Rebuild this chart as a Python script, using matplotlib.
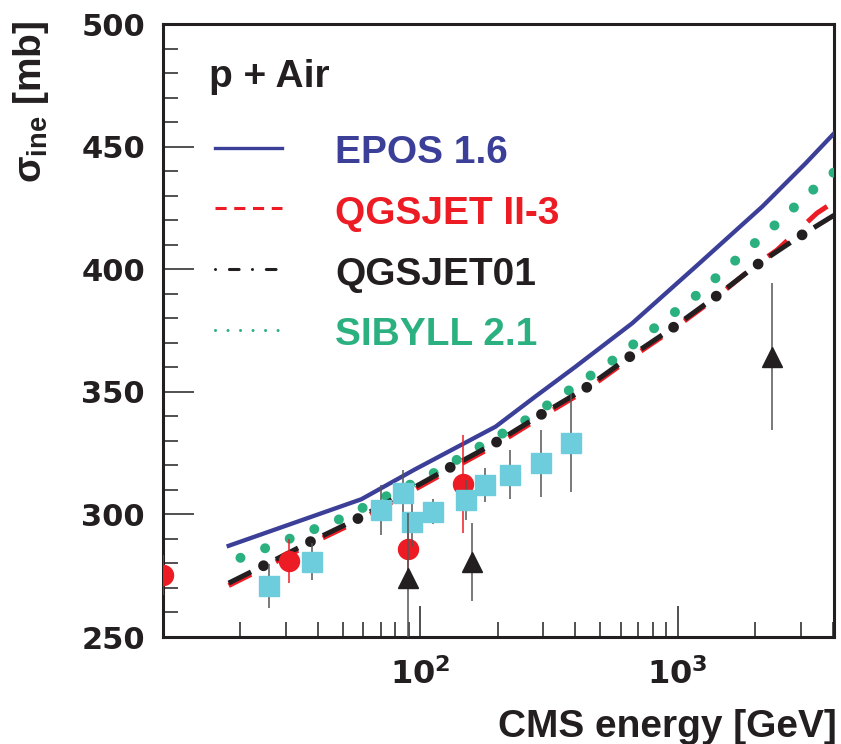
import matplotlib
matplotlib.use("Agg")
import matplotlib.pyplot as plt
from matplotlib.ticker import FixedLocator, LogLocator, MultipleLocator, NullFormatter

plt.rcParams['lines.scale_dashes'] = False
plt.rcParams['mathtext.fontset'] = 'dejavusans'

# model curves: CMS energy [GeV] vs inelastic cross-section [mb]
epos_e = [18, 59, 95, 196, 279, 400, 664, 1172, 2127, 3138, 4045]
epos_sig = [287.2, 306.2, 318.3, 335.8, 348.0, 360.2, 377.9, 401.0, 425.5, 443.2, 455.4]

qgs01_e = [18, 24.5, 37.4, 56.5, 128.5, 195.5, 292, 437, 650, 950, 1390, 2024, 2985, 4045]
qgs01_sig = [272.0, 279.0, 288.9, 298.0, 318.8, 329.2, 340.5, 351.4, 364.3, 375.9, 388.5, 401.7, 413.5, 422.0]

qgs2_e = [18, 24.5, 37.4, 56.5, 128.5, 195.5, 292, 437, 650, 950, 1390, 2024, 2428, 2985, 3474, 4045]
qgs2_sig = [271.0, 278.0, 288.0, 297.0, 317.8, 328.2, 339.5, 350.5, 363.5, 375.2, 388.0, 402.0, 407.8, 416.5, 422.9, 427.5]

sib_e = [20, 47.7, 112.4, 254, 555, 1161, 2333, 3733, 4045]
sib_sig = [282.3, 297.7, 316.8, 338.2, 362.6, 388.7, 417.1, 436.9, 439.5]

# measurements
circ_e = [10, 31, 89.3, 147]
circ_sig = [275.3, 281.1, 285.9, 312.3]
circ_err = [8, 9, 9, 20]

sq_e = [25.7, 37.9, 70.5, 85.7, 92.5, 112.4, 150, 178.6, 222, 295, 386]
sq_sig = [270.9, 280.7, 301.8, 308.9, 296.9, 301.1, 305.9, 312.0, 316.1, 320.8, 329.0]
sq_err = [9, 7.6, 10, 9.4, 10, 5, 8, 7, 10, 13.5, 20]

tri_e = [89.3, 158, 2328]
tri_sig = [274.0, 280.7, 364.3]
tri_err = [26.6, 16, 30]

models = ['EPOS 1.6', 'QGSJET II-3', 'QGSJET01', 'SIBYLL 2.1']

blue = '#3b3f98'
red = '#ed1c24'
black = '#231f20'
green = '#2bb07f'
cyan = '#6dcddd'
grey = '#555555'

fig = plt.figure(figsize=(8.41, 7.44), dpi=100)
ax = fig.add_axes([0.1938, 0.1438, 0.7979, 0.8239])
ax.set_xscale('log')
ax.set_xlim(10, 4045)
ax.set_ylim(250, 500)

# curves
ax.plot(epos_e, epos_sig, color=blue, lw=3.1, zorder=3)
ax.plot(qgs2_e, qgs2_sig, color=red, lw=3.6, linestyle=(0, (18, 20)),
        dash_capstyle='butt', zorder=3)
ax.plot(qgs01_e, qgs01_sig, color=black, lw=3.6, linestyle=(0, (18, 20)),
        dash_capstyle='butt', zorder=4)
ax.plot(qgs01_e, qgs01_sig, color=black, lw=7.8, linestyle=(10, (0.01, 37.99)),
        dash_capstyle='round', zorder=4)
ax.plot(sib_e, sib_sig, color=green, lw=7.2, linestyle=(0, (0.01, 19)),
        dash_capstyle='round', zorder=3)

# data points
ax.errorbar(circ_e, circ_sig, yerr=circ_err, fmt='o', color=red, ms=14.4,
            ecolor=red, elinewidth=1.1, capsize=0, zorder=5)
ax.errorbar(sq_e, sq_sig, yerr=sq_err, fmt='s', color=cyan, ms=13.9,
            ecolor=grey, elinewidth=1.1, capsize=0, zorder=6)
ax.errorbar(tri_e, tri_sig, yerr=tri_err, fmt='^', color=black, ms=14,
            ecolor=grey, elinewidth=1.1, capsize=0, zorder=7)

# legend drawn by hand
lx = [0.0775, 0.1773]
ax.plot(lx, [0.7982] * 2, transform=ax.transAxes, color=blue, lw=2.4)
ax.plot(lx, [0.6993] * 2, transform=ax.transAxes, color=red, lw=2.2,
        linestyle=(0, (8, 5.5)), dash_capstyle='butt')
ax.plot(lx, [0.6003] * 2, transform=ax.transAxes, color=black, lw=2.2,
        linestyle=(0, (0.01, 10, 7, 9.6)), dash_capstyle='round')
ax.plot(lx, [0.5008] * 2, transform=ax.transAxes, color=green, lw=2.2,
        linestyle=(0, (0.01, 9)), dash_capstyle='round')

font = dict(family=['Liberation Sans', 'DejaVu Sans'], weight='bold', size=28)
for name, yb, c in zip(models, [0.7732, 0.6737, 0.5742, 0.4763], [blue, red, black, green]):
    ax.text(0.2563, yb, name, transform=ax.transAxes, color=c, va='baseline', **font)
ax.text(0.0686, 0.8972, 'p + Air', transform=ax.transAxes, color=black,
        va='baseline', **font)

# axes styling
for sp in ax.spines.values():
    sp.set_linewidth(2.2)
    sp.set_color(black)

ax.xaxis.set_major_locator(FixedLocator([100, 1000]))
ax.xaxis.set_minor_locator(LogLocator(base=10, subs=range(2, 10), numticks=20))
ax.xaxis.set_minor_formatter(NullFormatter())
ax.set_xticklabels([r'$\mathbf{10^{2}}$', r'$\mathbf{10^{3}}$'])
ax.yaxis.set_major_locator(MultipleLocator(50))
ax.yaxis.set_minor_locator(MultipleLocator(10))

ax.tick_params(which='both', direction='in', top=False, right=False,
               color=black, width=1.1)
ax.tick_params(which='major', length=22)
ax.tick_params(which='minor', length=11)
ax.tick_params(axis='y', which='major', pad=13, labelsize=22)
ax.tick_params(axis='x', which='major', pad=15, labelsize=23)
for lab in ax.get_yticklabels():
    lab.set_fontfamily('DejaVu Sans')
    lab.set_fontweight('bold')
    lab.set_color(black)
for lab in ax.get_xticklabels():
    lab.set_color(black)

fig.text(0.037, 0.972, r'$\mathregular{\sigma_{ine}}$ [mb]', rotation=90, ha='center',
         va='top', color=black, **font)
fig.text(837 / 841, 7 / 744, 'CMS energy [GeV]', ha='right', va='baseline',
         color=black, **font)

fig.savefig('out.png', dpi=100)
